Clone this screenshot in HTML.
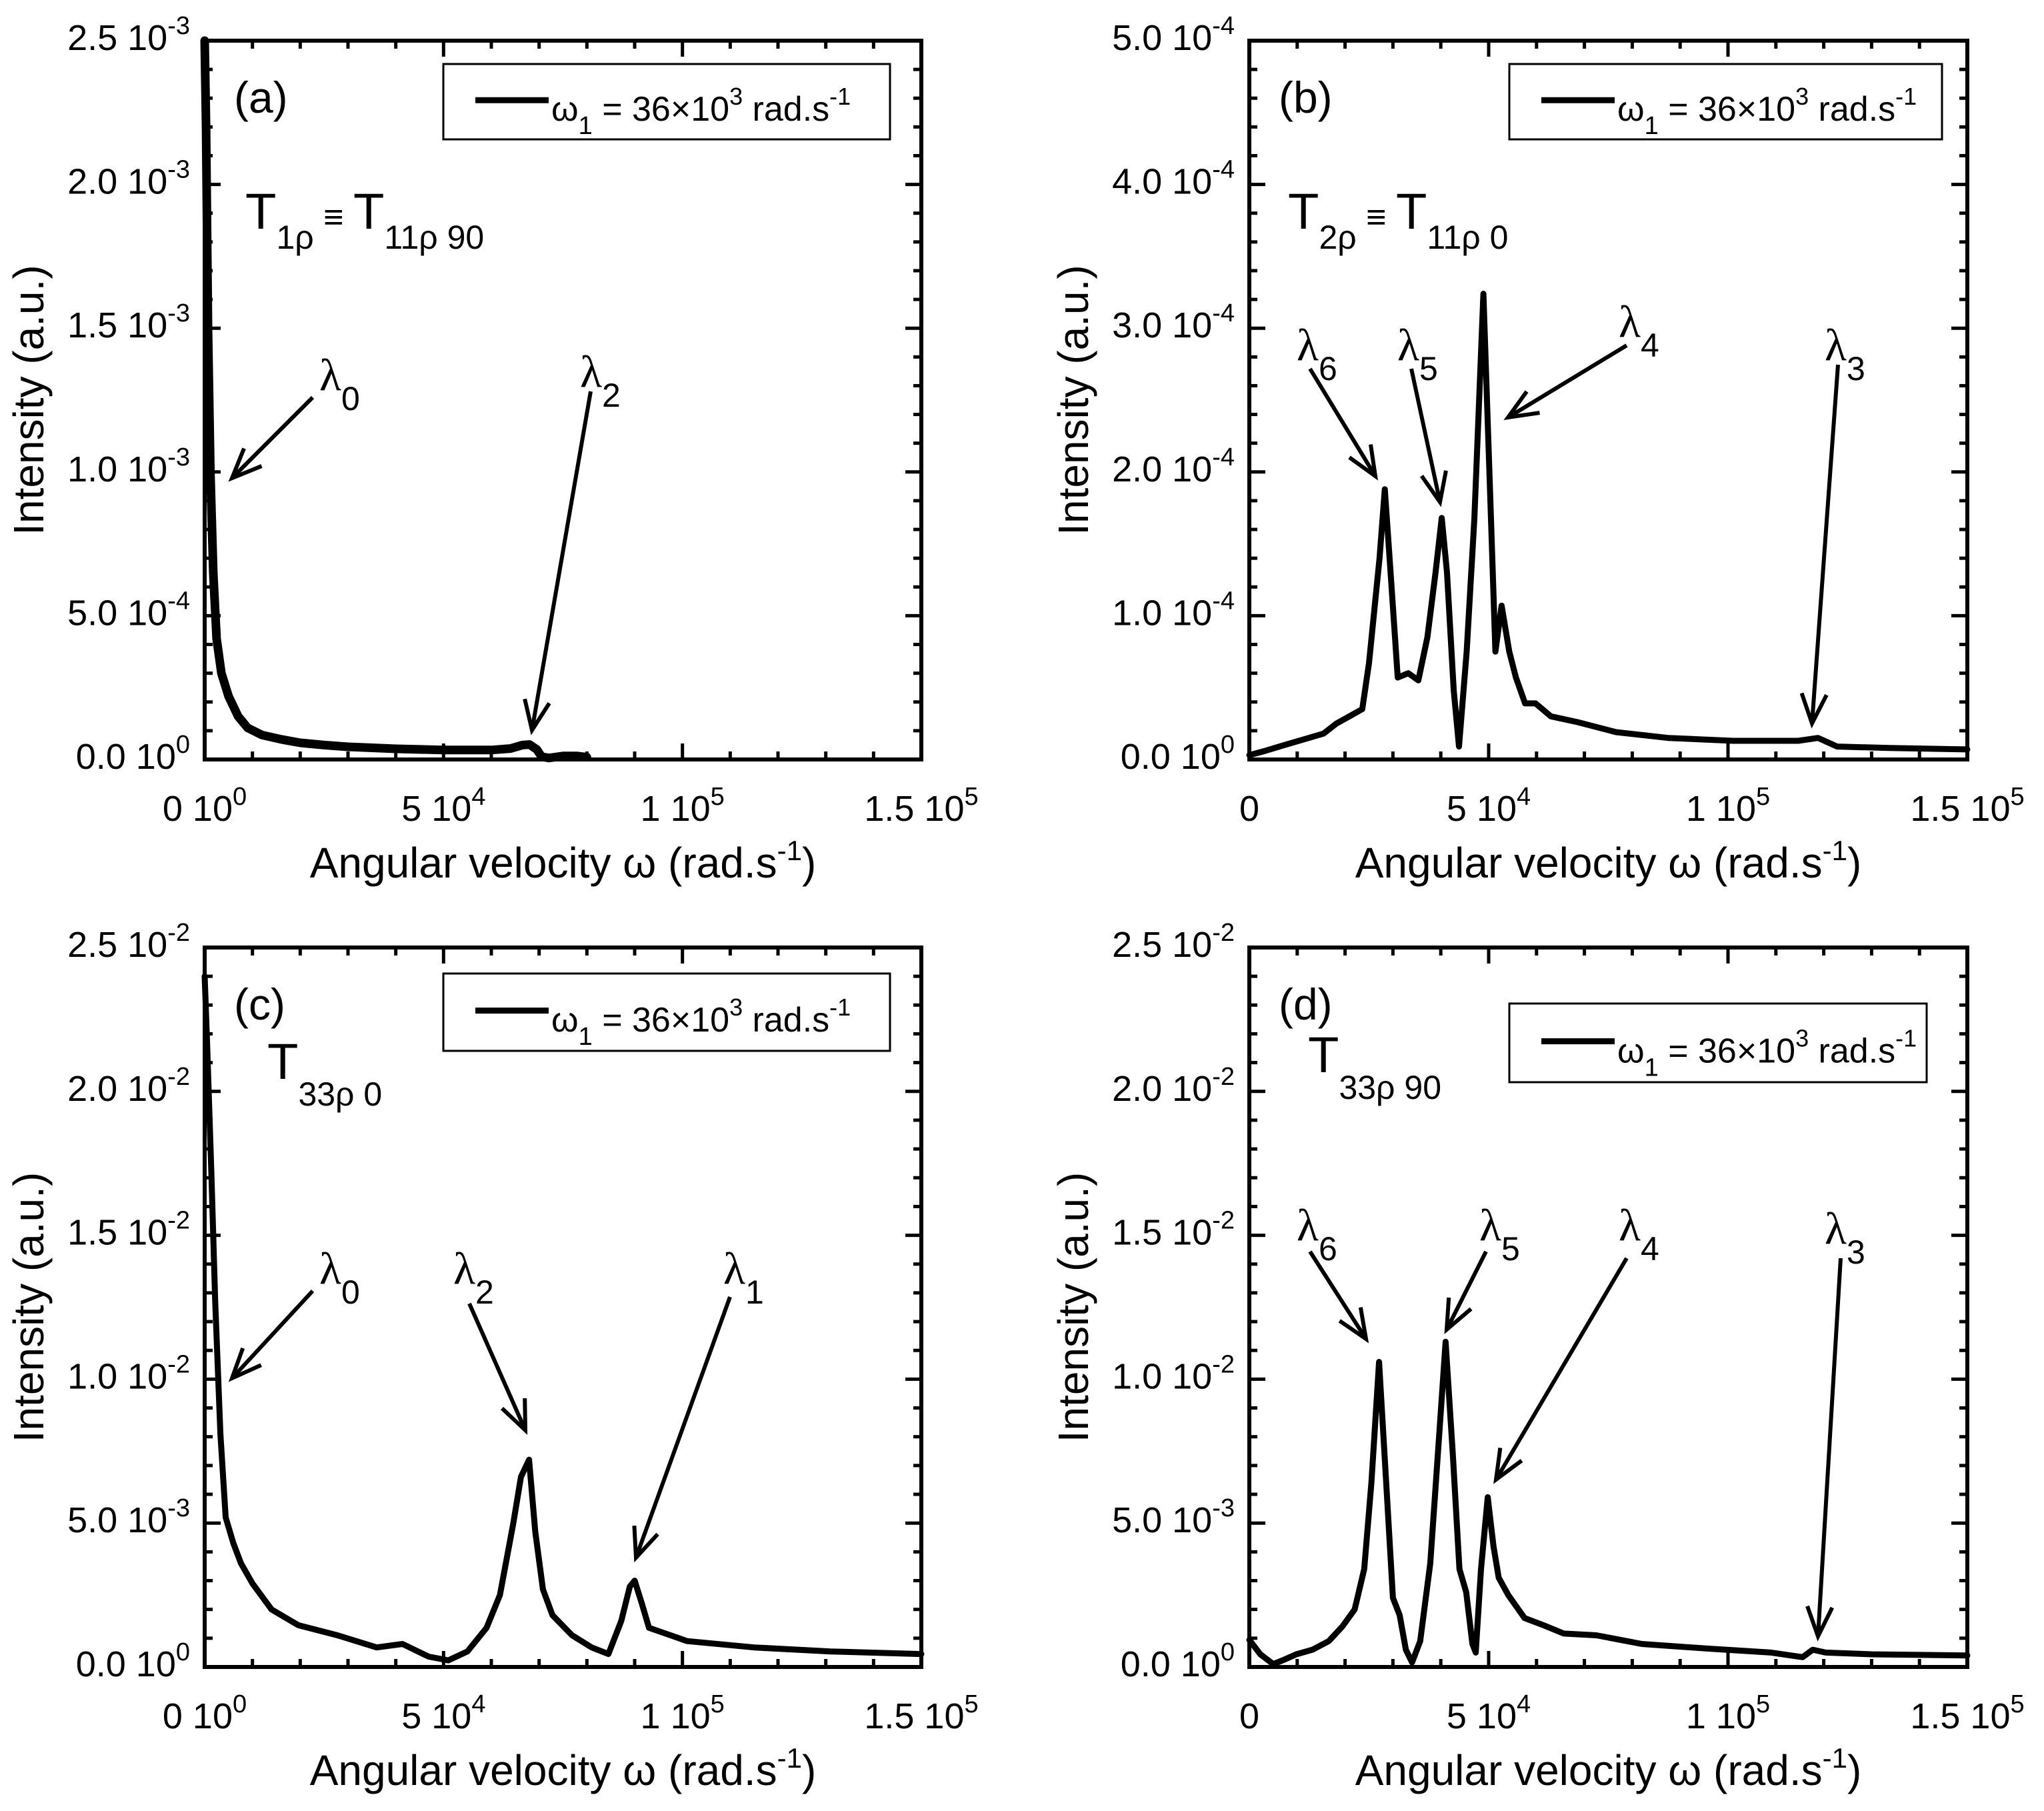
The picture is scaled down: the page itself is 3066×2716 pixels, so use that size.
<!DOCTYPE html>
<html><head><meta charset="utf-8"><style>
html,body{margin:0;padding:0;background:#fff;}
svg{display:block;font-family:"Liberation Sans",Arial,sans-serif;}
</style></head><body>
<svg id="fig" width="3066" height="2716" viewBox="0 0 3066 2716" xmlns="http://www.w3.org/2000/svg">
<rect width="3066" height="2716" fill="#fff"/>
</svg>
<script>
// Panel (a) data
const aX = [0,300,700,1200,1800,2500,3500,5000,7000,9000,12000,16000,20000,25000,30000,40000,50000,60000,64000,66500,68000,69500,70500,72000,75000,78000,80000];
const aY = [2.5e-3,2.2e-3,1.5e-3,1.0e-3,6.5e-4,4.2e-4,3e-4,2.2e-4,1.5e-4,1.1e-4,8.5e-5,7e-5,5.8e-5,5e-5,4.4e-5,3.7e-5,3.3e-5,3.3e-5,3.8e-5,5e-5,5.2e-5,3.5e-5,1e-5,5e-6,1.2e-5,1.2e-5,8e-6];
// Panel (b) data
const bX = [0,3300,7300,11400,15500,18200,20900,23600,25000,27200,28300,29300,31000,33200,35300,37200,38900,40200,41300,42700,43800,45400,47000,48900,50300,51400,52700,54300,55700,57600,59800,63000,68500,76600,87500,101000,114700,118800,122800,133700,150000];
const bY = [3e-6,6e-6,1e-5,1.4e-5,1.8e-5,2.5e-5,3e-5,3.5e-5,6.7e-5,1.4e-4,1.88e-4,1.4e-4,5.7e-5,6e-5,5.5e-5,8.5e-5,1.3e-4,1.68e-4,1.3e-4,4.8e-5,9e-6,7.5e-5,1.67e-4,3.24e-4,1.85e-4,7.5e-5,1.07e-4,7.5e-5,5.7e-5,3.9e-5,3.9e-5,3e-5,2.6e-5,1.9e-5,1.5e-5,1.3e-5,1.3e-5,1.5e-5,9e-6,8e-6,7e-6];
// Panel (c) data
const cX = [0,500,1400,2200,3300,4400,6000,7600,10000,14000,19600,27800,36000,41400,46900,51000,55000,59000,61800,64600,66200,67900,69200,70800,72800,76900,81000,84500,87200,89000,90000,91500,93000,101000,115000,131000,150000];
const cY = [2.4e-2,2.17e-2,1.72e-2,1.27e-2,8.1e-3,5.2e-3,4.3e-3,3.6e-3,2.9e-3,2e-3,1.45e-3,1.1e-3,6.8e-4,8e-4,3.6e-4,2.3e-4,5.4e-4,1.36e-3,2.5e-3,5e-3,6.6e-3,7.2e-3,4.7e-3,2.7e-3,1.8e-3,1.1e-3,6.8e-4,4.5e-4,1.6e-3,2.8e-3,3e-3,2.2e-3,1.36e-3,9e-4,6.8e-4,5.4e-4,4.5e-4];
// Panel (d) data
const dX = [0,2300,5000,7100,9800,13200,16600,19400,22000,24000,25500,27100,28600,30000,31400,32700,34000,35700,37800,39800,41000,42500,43900,45300,46600,47300,48400,49800,51000,52100,54100,57500,61600,65700,72500,82000,95700,109000,115600,117700,120400,130000,150000];
const dY = [9.4e-4,4.4e-4,1e-4,2.4e-4,4.4e-4,6e-4,9e-4,1.4e-3,2e-3,3.4e-3,6.4e-3,1.06e-2,6.4e-3,2.4e-3,1.8e-3,6e-4,1.6e-4,9e-4,3.6e-3,8.4e-3,1.13e-2,7.4e-3,3.4e-3,2.6e-3,8e-4,5e-4,3.4e-3,5.9e-3,4.2e-3,3.1e-3,2.5e-3,1.7e-3,1.44e-3,1.16e-3,1.1e-3,8e-4,6.4e-4,5e-4,3.4e-4,6e-4,5e-4,4.4e-4,4e-4];
// Tick labels
const xTickVals = [0,50000,100000,150000];
const xTickLabA = [["0","0"],["5","4"],["1","5"],["1.5","5"]];
const xTickLabB = [["0",null],["5","4"],["1","5"],["1.5","5"]];
const yTickLabA = [["0.0","0"],["5.0","-4"],["1.0","-3"],["1.5","-3"],["2.0","-3"],["2.5","-3"]];
const yTickLabB = [["0.0","0"],["1.0","-4"],["2.0","-4"],["3.0","-4"],["4.0","-4"],["5.0","-4"]];
const yTickLabC = [["0.0","0"],["5.0","-3"],["1.0","-2"],["1.5","-2"],["2.0","-2"],["2.5","-2"]];

const NS="http://www.w3.org/2000/svg";
const svg=document.getElementById('fig');
function mk(tag,attrs,parent){const e=document.createElementNS(NS,tag);for(const k in attrs)e.setAttribute(k,attrs[k]);(parent||svg).appendChild(e);return e;}

const panels=[
 {id:'a',L:307,R:1382,T:61,B:1139,ymax:2.5e-3,xs:aX,ys:aY,xl:xTickLabA,yl:yTickLabA,sw:13,
  tag:'(a)',leg:[665,96,670,113]},
 {id:'b',L:1874,R:2951,T:61,B:1139,ymax:5e-4,xs:bX,ys:bY,xl:xTickLabB,yl:yTickLabB,sw:9,
  tag:'(b)',leg:[2264,96,649,113]},
 {id:'c',L:307,R:1382,T:1421,B:2500,ymax:2.5e-2,xs:cX,ys:cY,xl:xTickLabA,yl:yTickLabC,sw:9,
  tag:'(c)',leg:[665,1460,670,116]},
 {id:'d',L:1874,R:2951,T:1421,B:2500,ymax:2.5e-2,xs:dX,ys:dY,xl:xTickLabB,yl:yTickLabC,sw:9,
  tag:'(d)',leg:[2264,1505,626,118]}
];

panels.forEach(p=>{
 const g=mk('g',{});
 
 
 const W=p.R-p.L,H=p.B-p.T;
 const sx=v=>p.L+v/150000*W;
 const sy=v=>p.B-v/p.ymax*H;
 for(let i=0;i<=15;i++){
  const x=sx(i*10000),len=(i%5==0)?24:12;
  mk('line',{x1:x,y1:p.B,x2:x,y2:p.B-len,stroke:'#000','stroke-width':5},g);
  mk('line',{x1:x,y1:p.T,x2:x,y2:p.T+len,stroke:'#000','stroke-width':5},g);
 }
 for(let i=0;i<=25;i++){
  const y=sy(i*p.ymax/25),len=(i%5==0)?24:12;
  mk('line',{x1:p.L,y1:y,x2:p.L+len,y2:y,stroke:'#000','stroke-width':5},g);
  mk('line',{x1:p.R,y1:y,x2:p.R-len,y2:y,stroke:'#000','stroke-width':5},g);
 }
 let d='';
 p.xs.forEach((v,i)=>{d+=(i?'L':'M')+sx(v).toFixed(1)+' '+sy(p.ys[i]).toFixed(1);});
 const path=mk('path',{d:d,fill:'none',stroke:'#000','stroke-width':p.sw,'stroke-linejoin':'round','stroke-linecap':'round'},g);
 
 
 const fr=mk('rect',{x:p.L,y:p.T,width:W,height:H,fill:'none',stroke:'#000','stroke-width':6},g);
 
 
 xTickVals.forEach((v,i)=>{
  const lab=p.xl[i];
  const t=mk('text',{x:sx(v),y:p.B+92,'font-size':54,'text-anchor':'middle'},g);
  
  
  if(lab[1]===null){t.textContent=lab[0];}
  else{
   const a=mk('tspan',{},t);a.textContent=lab[0]+' 10';
   const b=mk('tspan',{dy:-24,'font-size':38},t);b.textContent=lab[1];
  }
 });
 p.yl.forEach((lab,i)=>{
  const t=mk('text',{x:p.L-22,y:sy(i*p.ymax/5)+14,'font-size':54,'text-anchor':'end'},g);
  
  
  const a=mk('tspan',{},t);a.textContent=lab[0]+' 10';
  const b=mk('tspan',{dy:-24,'font-size':38},t);b.textContent=lab[1];
 });
 const xt=mk('text',{x:(p.L+p.R)/2,y:p.B+177,'font-size':64,'text-anchor':'middle'},g);
 
 
 mk('tspan',{},xt).textContent='Angular velocity ω  (rad.s';
 mk('tspan',{dy:-26,'font-size':42},xt).textContent='-1';
 mk('tspan',{dy:26},xt).textContent=')';
 const yt=mk('text',{x:0,y:0,'font-size':64,'text-anchor':'middle',transform:`translate(${p.L-242},${(p.T+p.B)/2}) rotate(-90)`},g);
 
 
 yt.textContent='Intensity  (a.u.)';
 const tg=mk('text',{x:p.L+44,y:p.T+108,'font-size':66},g);
 
 
 tg.textContent=p.tag;
 const [lx,ly,lw,lh]=p.leg;
 const lg=mk('g',{},g);
 
 
 mk('rect',{x:lx,y:ly,width:lw,height:lh,fill:'#fff',stroke:'#000','stroke-width':3},lg);
 mk('line',{x1:lx+48,y1:ly+lh*0.48,x2:lx+158,y2:ly+lh*0.48,stroke:'#000','stroke-width':9},lg);
 const lt=mk('text',{x:lx+162,y:ly+lh*0.75,'font-size':52},lg);
 mk('tspan',{},lt).textContent='ω';
 mk('tspan',{dy:20,'font-size':38},lt).textContent='1';
 mk('tspan',{dy:-20},lt).textContent=' = 36×10';
 mk('tspan',{dy:-24,'font-size':36},lt).textContent='3';
 mk('tspan',{dy:24},lt).textContent=' rad.s';
 mk('tspan',{dy:-24,'font-size':36},lt).textContent='-1';
});

function tlabel(x,y,parts,name){
 const t=mk('text',{x:x,y:y,'font-size':76});
 
 
 parts.forEach(pt=>{const s=mk('tspan',pt[1]?{dy:pt[1],'font-size':pt[2]||76}:{},t);s.textContent=pt[0];});
}
tlabel(368,343,[['T'],['1ρ',30,50],[' ≡ ',-30,52],['T',0,76],['11ρ 90',30,50]],'relaxation-label-a');
tlabel(1932,343,[['T'],['2ρ',30,50],[' ≡ ',-30,52],['T',0,76],['11ρ 0',30,50]],'relaxation-label-b');
tlabel(401,1618,[['T'],['33ρ 0',40,50]],'relaxation-label-c');
tlabel(1962,1608,[['T'],['33ρ 90',40,50]],'relaxation-label-d');

const arrows=[
 [469,596,348,717,'0',479,585],[886,587,798,1095,'2',870,580],
 [1965,553,2063,714,'6',1945,540],[2117,553,2160,753,'5',2096,540],[2440,518,2262,626,'4',2428,505],[2757,547,2718,1085,'3',2737,540],
 [469,1936,348,2067,'0',479,1925],[704,1955,788,2145,'2',680,1925],[1095,1945,954,2336,'1',1085,1925],
 [1965,1877,2049,2008,'6',1945,1860],[2229,1877,2170,1994,'5',2219,1860],[2440,1887,2244,2219,'4',2428,1860],[2761,1887,2727,2454,'3',2737,1865]
];
arrows.forEach(a=>{
 const [x1,y1,x2,y2,sub,tx,ty]=a;
 const g=mk('g',{});
 
 
 mk('line',{x1:x1,y1:y1,x2:x2,y2:y2,stroke:'#000','stroke-width':6},g);
 const ang=Math.atan2(y2-y1,x2-x1),L=48,sp=0.4;
 const p1=[x2-L*Math.cos(ang-sp),y2-L*Math.sin(ang-sp)],p2=[x2-L*Math.cos(ang+sp),y2-L*Math.sin(ang+sp)];
 mk('polyline',{points:`${p1} ${x2},${y2} ${p2}`,fill:'none',stroke:'#000','stroke-width':6},g);
 const t=mk('text',{x:tx,y:ty,'font-size':68,'font-family':'"Liberation Serif",serif'},g);
 mk('tspan',{},t).textContent='λ';
 mk('tspan',{dy:30,'font-size':50,'font-family':'"Liberation Sans",sans-serif'},t).textContent=sub;
});
</script>
</body></html>
